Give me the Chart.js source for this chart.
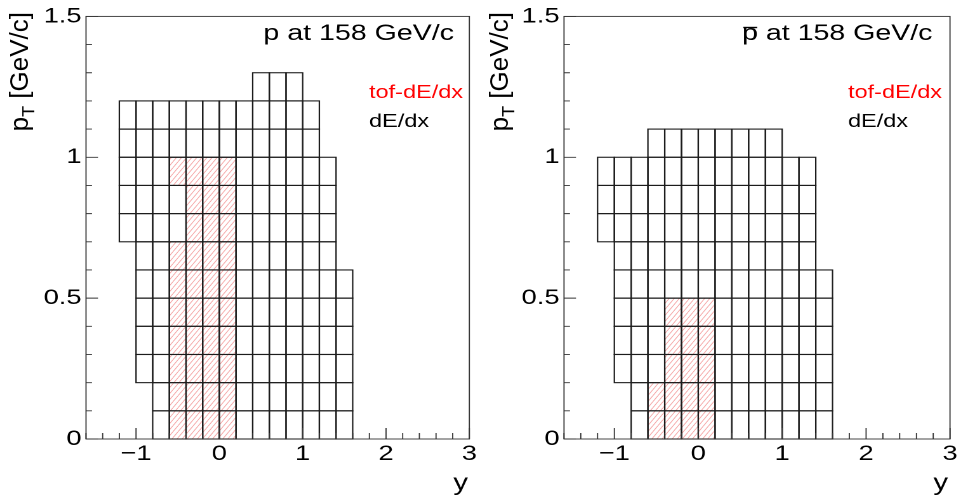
<!DOCTYPE html>
<html><head><meta charset="utf-8">
<script src="https://cdn.jsdelivr.net/npm/chart.js@4.4.1/dist/chart.umd.min.js"></script>
<style>
html,body{margin:0;padding:0;background:#fff;width:961px;height:502px;overflow:hidden;position:relative;}
canvas{position:absolute;top:0;}
</style></head><body>
<canvas id="c1" width="378" height="502" style="left:0px;width:480px;height:502px"></canvas>
<canvas id="c2" width="379" height="502" style="left:480px;width:481px;height:502px"></canvas>
<script>
// ---------- data (bins in rapidity y of width 0.2, pT bins of width 0.1) ----------
const yBinWidth = 0.2;
const ptBinWidth = 0.1;

// protons: dE/dx acceptance, per pT row: rapidity range [from, to]
const protonDedxPt   = [0.0, 0.1, 0.2, 0.3, 0.4, 0.5, 0.6, 0.7, 0.8, 0.9, 1.0, 1.1, 1.2];
const protonDedxFrom = [-0.8, -0.8, -1.0, -1.0, -1.0, -1.0, -1.0, -1.2, -1.2, -1.2, -1.2, -1.2, 0.4];
const protonDedxTo   = [1.6, 1.6, 1.6, 1.6, 1.6, 1.6, 1.4, 1.4, 1.4, 1.4, 1.2, 1.2, 1.0];
// protons: tof-dE/dx acceptance
const protonTofPt    = [0.0, 0.1, 0.2, 0.3, 0.4, 0.5, 0.6, 0.7, 0.8, 0.9];
const protonTofFrom  = [-0.6, -0.6, -0.6, -0.6, -0.6, -0.6, -0.6, -0.4, -0.4, -0.6];
const protonTofTo    = [0.2, 0.2, 0.2, 0.2, 0.2, 0.2, 0.2, 0.2, 0.2, 0.2];

// antiprotons: dE/dx acceptance
const pbarDedxPt     = [0.0, 0.1, 0.2, 0.3, 0.4, 0.5, 0.6, 0.7, 0.8, 0.9, 1.0];
const pbarDedxFrom   = [-0.8, -0.8, -1.0, -1.0, -1.0, -1.0, -1.0, -1.2, -1.2, -1.2, -0.6];
const pbarDedxTo     = [1.6, 1.6, 1.6, 1.6, 1.6, 1.6, 1.4, 1.4, 1.4, 1.4, 1.0];
// antiprotons: tof-dE/dx acceptance
const pbarTofPt      = [0.0, 0.1, 0.2, 0.3, 0.4];
const pbarTofFrom    = [-0.6, -0.6, -0.4, -0.4, -0.4];
const pbarTofTo      = [0.2, 0.2, 0.2, 0.2, 0.2];

// axis ticks
const xMajorTicks = [-1, 0, 1, 2, 3];
const yMajorTicks = [0, 0.5, 1, 1.5];
const xMin = -1.6, xMax = 3, yMin = 0, yMax = 1.5;

// labels
const legendTof = 'tof-dE/dx';
const legendDedx = 'dE/dx';
const titleText = 'p at 158 GeV/c';
const xTitle = 'y';

// ---------- helpers ----------
const r2 = v => Math.round(v * 100) / 100;
function cells(pt, from, to) {
  const out = [];
  for (let i = 0; i < pt.length; i++) {
    for (let lo = from[i]; lo < to[i] - 1e-6; lo = r2(lo + yBinWidth)) {
      out.push({ x: r2(lo + yBinWidth / 2), y: [pt[i], r2(pt[i] + ptBinWidth)] });
    }
  }
  return out;
}

function makeHatch() {
  const w = 4, h = 6, k = 2;
  const c = document.createElement('canvas');
  c.width = w * k; c.height = h * k;
  const g = c.getContext('2d');
  g.strokeStyle = 'rgba(235,70,70,0.5)';
  g.lineWidth = 1.4;
  g.beginPath();
  for (let j = -1; j <= 1; j++) {
    g.moveTo((j * w) * k, h * k);
    g.lineTo((j * w + w) * k, 0);
  }
  g.stroke();
  const p = c.getContext('2d').createPattern(c, 'repeat');
  p.setTransform(new DOMMatrix().scale(1 / k, 1 / k));
  return p;
}

Chart.defaults.font.family = "'Liberation Sans', Arial, Helvetica, sans-serif";
Chart.defaults.color = '#000';

// outline every dE/dx bin (bar element) with a line centred on its edges
const cellOutline = {
  id: 'cellOutline',
  afterDatasetsDraw(chart) {
    const { ctx } = chart;
    const meta = chart.getDatasetMeta(0);
    ctx.save();
    ctx.strokeStyle = '#1c1c1c';
    ctx.lineWidth = 1.1;
    for (const el of meta.data) {
      const { x, y, base, width } = el.getProps(['x', 'y', 'base', 'width'], true);
      ctx.strokeRect(x - width / 2, Math.min(y, base), width, Math.abs(base - y));
    }
    ctx.restore();
  }
};

function decor(panel) {
  return {
    id: 'decor',
    afterDraw(chart) {
      const { ctx, chartArea: a, scales: { x, y } } = chart;
      const S = panel.S;
      ctx.save();
      // frame
      ctx.strokeStyle = '#333';
      ctx.lineWidth = 0.9;
      ctx.strokeRect(a.left, a.top, a.right - a.left, a.bottom - a.top);
      // inward ticks
      ctx.beginPath();
      for (let i = 0; i <= 23; i++) {
        const v = r2(xMin + i * 0.2);
        const px = x.getPixelForValue(v);
        const major = Math.abs(v - Math.round(v)) < 1e-6;
        const len = major ? 11 : 6;
        ctx.moveTo(px, a.bottom);
        ctx.lineTo(px, a.bottom - len);
      }
      for (let i = 0; i <= 15; i++) {
        const v = r2(yMin + i * 0.1);
        const py = y.getPixelForValue(v);
        const major = Math.abs(v * 2 - Math.round(v * 2)) < 1e-6;
        const len = (major ? 12 : 6) / S;
        ctx.moveTo(a.left, py);
        ctx.lineTo(a.left + len, py);
      }
      ctx.stroke();

      // title
      ctx.fillStyle = '#000';
      ctx.font = "22.5px 'Liberation Sans'";
      ctx.textAlign = 'right';
      ctx.textBaseline = 'alphabetic';
      const tr = panel.titleRight / S;
      ctx.fillText(titleText, tr, 40);
      if (panel.bar) {
        const w = ctx.measureText(titleText).width;
        const pw = ctx.measureText('p').width;
        const x0 = tr - w;
        ctx.fillRect(x0 + 1, 26.8, pw - 1.6, 1.4);
      }
      // legend
      ctx.textAlign = 'left';
      ctx.font = "18.5px 'Liberation Sans'";
      ctx.fillStyle = '#ff0000';
      ctx.fillText(legendTof, panel.legendX / S, 98);
      ctx.fillStyle = '#000';
      ctx.fillText(legendDedx, panel.legendX / S, 127);

      // x title
      ctx.textAlign = 'right';
      ctx.font = "23px 'Liberation Sans'";
      ctx.fillText(xTitle, panel.xTitleRight / S, 490);

      // y title (rotated, not stretched)
      ctx.save();
      ctx.translate(panel.yTitleX / S, 12);
      ctx.scale(1 / S, 1);
      ctx.rotate(-Math.PI / 2);
      ctx.textAlign = 'left';
      const big = "26px 'Liberation Sans'", small = "18px 'Liberation Sans'";
      ctx.font = big;
      const wp = ctx.measureText('p').width;
      const wr = ctx.measureText(' [GeV/c]').width;
      ctx.font = small;
      const wt = ctx.measureText('T').width;
      const L = wp + wt + wr;
      ctx.font = big;
      ctx.fillText('p', -L, 0);
      ctx.font = small;
      ctx.fillText('T', -L + wp, 6);
      ctx.font = big;
      ctx.fillText(' [GeV/c]', -L + wp + wt, 0);
      ctx.restore();

      ctx.restore();
    }
  };
}

function makeChart(id, panel, dedxCells, tofCells) {
  const canvas = document.getElementById(id);
  const S = panel.cssW / canvas.width;
  panel.S = S;
  const left = panel.areaLeft / S, right = panel.areaRight / S;
  const W = canvas.width;
  return new Chart(canvas, {
    type: 'bar',
    data: {
      datasets: [
        { label: legendDedx, data: dedxCells, backgroundColor: 'rgba(0,0,0,0)',
          borderWidth: 0, inflateAmount: 0,
          grouped: false, order: 0, barPercentage: 1, categoryPercentage: 1 },
        { label: legendTof, data: tofCells, backgroundColor: makeHatch(),
          borderWidth: 0, grouped: false, order: 1, barPercentage: 1, categoryPercentage: 1 }
      ]
    },
    options: {
      responsive: false, animation: false, devicePixelRatio: 2,
      events: [],
      layout: { padding: { left: 0, right: W - right, top: 13, bottom: 0 } },
      plugins: { legend: { display: false }, tooltip: { enabled: false }, title: { display: false } },
      scales: {
        x: {
          type: 'linear', min: xMin, max: xMax, offset: false,
          grid: { display: false, drawTicks: false }, border: { display: false },
          afterBuildTicks: s => { s.ticks = xMajorTicks.map(v => ({ value: v })); },
          afterFit: s => { s.height = 502 - 439; },
          ticks: { padding: 2.4, color: '#000', font: { size: 21.5 }, maxRotation: 0, autoSkip: false,
                   callback: v => String(v).replace('-', '\u2212') }
        },
        y: {
          type: 'linear', min: yMin, max: yMax,
          grid: { display: false, drawTicks: false }, border: { display: false },
          afterBuildTicks: s => { s.ticks = yMajorTicks.map(v => ({ value: v })); },
          afterFit: s => { s.width = left; },
          ticks: { padding: 3.5, color: '#000', font: { size: 21.5 }, autoSkip: false,
                   callback: v => String(v) }
        }
      }
    },
    plugins: [cellOutline, decor(panel)]
  });
}

makeChart('c1', { cssW: 480, areaLeft: 86, areaRight: 470, titleRight: 454, legendX: 369,
                  xTitleRight: 468, yTitleX: 28, bar: false },
          cells(protonDedxPt, protonDedxFrom, protonDedxTo),
          cells(protonTofPt, protonTofFrom, protonTofTo));
makeChart('c2', { cssW: 481, areaLeft: 84, areaRight: 470, titleRight: 452.5, legendX: 368,
                  xTitleRight: 468, yTitleX: 28, bar: true },
          cells(pbarDedxPt, pbarDedxFrom, pbarDedxTo),
          cells(pbarTofPt, pbarTofFrom, pbarTofTo));
</script>
</body></html>
